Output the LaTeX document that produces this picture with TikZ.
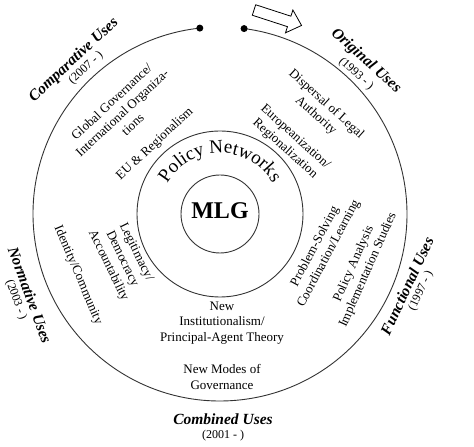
\documentclass[tikz,border=0pt]{standalone}
\usepackage{fontspec}
\setmainfont{Liberation Serif}
\usetikzlibrary{decorations.text}
\begin{document}
\begin{tikzpicture}[x=1pt,y=1pt,
  ring/.style={draw=black!80, line width=0.9pt},
  lbl/.style={inner sep=0pt, align=center, font=\fontsize{13}{15.5}\selectfont},
  usetitle/.style={inner sep=0pt, font=\fontsize{15.5}{17}\selectfont\bfseries\itshape},
  usedate/.style={inner sep=0pt, font=\fontsize{12}{14}\selectfont}]
\useasboundingbox (0,0) rectangle (474,447);
\coordinate (C) at (220,233);
% rings
\draw[ring] (C) circle[radius=39];
\draw[ring] (C) circle[radius=83];
\draw[ring] (C) ++(96.2:187) coordinate (dl) arc[start angle=96.2, end angle=442.6, radius=187] coordinate (dr);
\fill (dl) circle[radius=3.5];
\fill (dr) circle[radius=3.5];
% hollow arrow
\begin{scope}[shift={(254,437)}, rotate=-18]
\draw[line width=0.8pt, fill=white] (0,5.5) -- (37,5.5) -- (37,12) -- (50,0) -- (37,-12) -- (37,-5.5) -- (0,-5.5) -- cycle;
\end{scope}
% centre
\node[inner sep=0pt, font=\fontsize{24}{24}\selectfont\bfseries] (mlg) at (220,236) {MLG};
\path[decorate, decoration={text along path, text align=center,
  text={|\fontsize{19}{19}\selectfont|Policy Networks}}]
  (C) ++(163:61) arc[start angle=163, end angle=17, radius=61];
% inner labels
\node[lbl, rotate=43] (glob) at (122,334) {Global Governance/\\International Organiza-\\tions};
\node[lbl, rotate=43] (eu) at (155,303) {EU \& Regionalism};
\node[lbl, rotate=-42] (disp) at (321,337) {Dispersal of Legal\\Authority};
\node[lbl, rotate=-42] (europ) at (290,304) {Europeanization/\\Regionalization};
\node[lbl, rotate=62] (prob) at (322,197) {Problem-Solving\\Coordination/Learning};
\node[lbl, rotate=66] (pol) at (361,180) {Policy Analysis\\Implementation Studies};
\node[lbl, rotate=-67] (ident) at (78,172) {Identity/Community};
\node[lbl, rotate=-64] (legit) at (122,188) {Legitimacy/\\Democracy\\Accountability};
\node[lbl] (newinst) at (222,124) {New\\Institutionalism/\\Principal-Agent Theory};
\node[lbl] (newmodes) at (222,70) {New Modes of\\Governance};
% outer titles
\node[usetitle, rotate=43] (comp) at (74,387) {Comparative Uses};
\node[usedate, rotate=43] (compd) at (86,379) {(2007 - )};
\node[usetitle, rotate=-42] (orig) at (366,386) {Original Uses};
\node[usedate, rotate=-42] (origd) at (356,373) {(1993 - )};
\node[usetitle, rotate=-70] (norm) at (30,152) {Normative Uses};
\node[usedate, rotate=-70] (normd) at (16,147) {(2003 - )};
\node[usetitle, rotate=65] (func) at (407,161) {Functional Uses};
\node[usedate, rotate=65] (funcd) at (421,156) {(1997 - )};
\node[usetitle] (comb) at (223,28) {Combined Uses};
\node[usedate] (combd) at (223,11) {(2001 - )};
\end{tikzpicture}
\end{document}
